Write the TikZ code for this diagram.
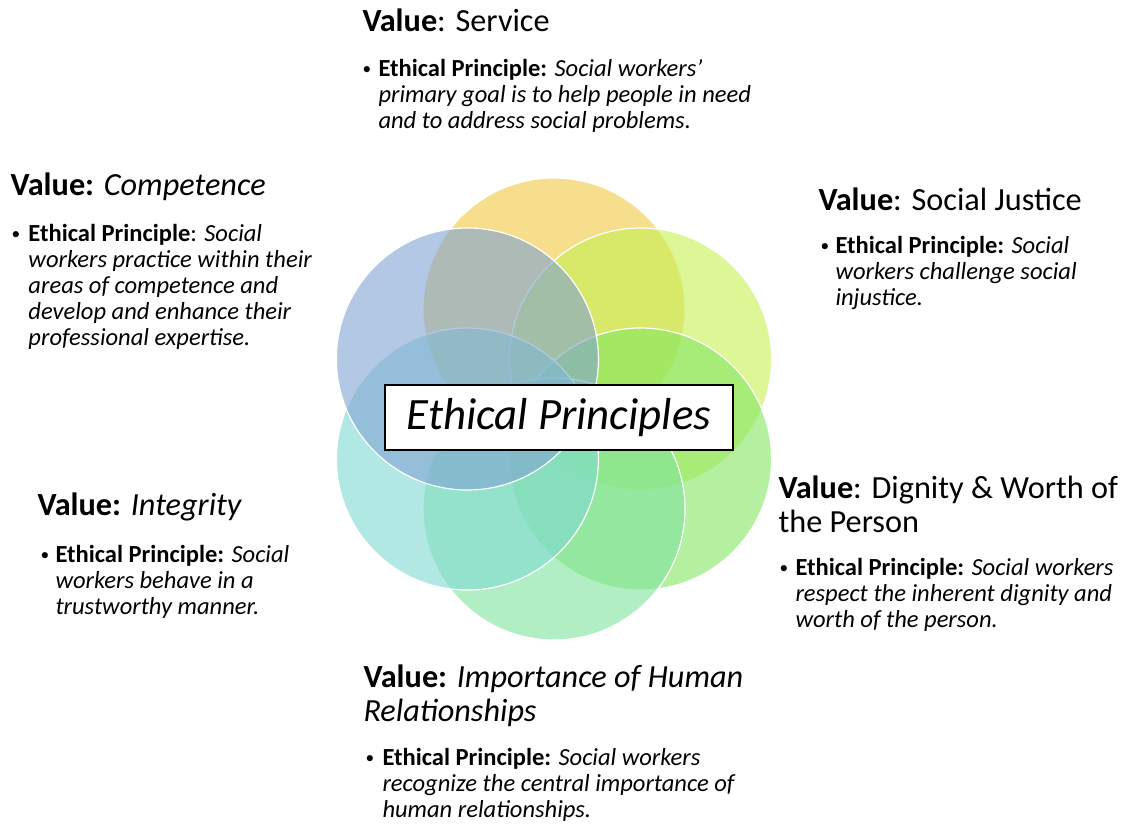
\documentclass[tikz,border=0pt]{standalone}
\usepackage{fontspec}
\setmainfont{Carlito}

\tikzset{every picture/.style={line width=0.75pt}}
\tikzset{
  petal/.style={draw=white, line width=0.9pt, fill opacity=0.6},
  valtext/.style={anchor=base west, inner sep=0pt, align=left, font=\fontsize{24.2}{25.5}\selectfont},
  printext/.style={anchor=base west, inner sep=0pt, align=left, font=\fontsize{18.4}{19.5}\selectfont},
  bulletmark/.style={anchor=base west, inner sep=0pt, font=\fontsize{13}{15}\selectfont}
}
\definecolor{petalA}{RGB}{240,200,63}
\definecolor{petalB}{RGB}{198,240,80}
\definecolor{petalC}{RGB}{130,230,97}
\definecolor{petalD}{RGB}{127,227,157}
\definecolor{petalE}{RGB}{127,217,210}
\definecolor{petalF}{RGB}{127,163,210}

\begin{document}
\begin{tikzpicture}[x=0.75pt,y=0.75pt,yscale=-1,xscale=1]
\useasboundingbox (0,0) rectangle (1123,826);

%Shape: Circle [top]
\draw [petal, fill=petalA] (554,309) circle (131) ;
%Shape: Circle [top right]
\draw [petal, fill=petalB] (640.6,359) circle (131) ;
%Shape: Circle [bottom right]
\draw [petal, fill=petalC] (640.6,459) circle (131) ;
%Shape: Circle [bottom]
\draw [petal, fill=petalD] (554,509) circle (131) ;
%Shape: Circle [bottom left]
\draw [petal, fill=petalE] (467.4,459) circle (131) ;
%Shape: Circle [top left]
\draw [petal, fill=petalF] (467.4,359) circle (131) ;

%Shape: Rectangle
\node (centre) at (559,417.5) [draw=black, fill=white, line width=1.1pt, inner sep=0pt,
  minimum width=261pt, minimum height=48.75pt, font=\fontsize{33.6}{40}\selectfont\itshape] {Ethical Principles};

% Text Node (multi-line nodes sit on their last baseline)
\node (svcVal) at (362,31) [valtext] {\textbf{Value}: Service};
\node (svcDot) at (362,74) [bulletmark] {\textbullet};
\node (svcTxt) at (378,128) [printext] {\textbf{Ethical Principle:} \textit{Social workers'}\\
  \textit{primary goal is to help people in need}\\ \textit{and to address social problems.}};

% Text Node
\node (cmpVal) at (10,195) [valtext] {\textbf{Value:} \textit{Competence}};
\node (cmpDot) at (11,239) [bulletmark] {\textbullet};
\node (cmpTxt) at (28,345) [printext] {\textbf{Ethical Principle}: \textit{Social}\\
  \textit{workers practice within their}\\ \textit{areas of competence and}\\
  \textit{develop and enhance their}\\ \textit{professional expertise.}};

% Text Node
\node (sjVal) at (818,210) [valtext] {\textbf{Value}: Social Justice};
\node (sjDot) at (820,251) [bulletmark] {\textbullet};
\node (sjTxt) at (835,305) [printext] {\textbf{Ethical Principle:} \textit{Social}\\
  \textit{workers challenge social}\\ \textit{injustice.}};

% Text Node
\node (intVal) at (37,515) [valtext] {\textbf{Value:} \textit{Integrity}};
\node (intDot) at (40,560) [bulletmark] {\textbullet};
\node (intTxt) at (55,614) [printext] {\textbf{Ethical Principle:} \textit{Social}\\
  \textit{workers behave in a}\\ \textit{trustworthy manner.}};

% Text Node
\node (dgnVal) at (778,532) [valtext] {\textbf{Value}: Dignity \& Worth of\\ the Person};
\node (dgnDot) at (779,573) [bulletmark] {\textbullet};
\node (dgnTxt) at (795,627) [printext] {\textbf{Ethical Principle:} \textit{Social workers}\\
  \textit{respect the inherent dignity and}\\ \textit{worth of the person.}};

% Text Node
\node (hrVal) at (363,721) [valtext] {\textbf{Value:} \textit{Importance of Human}\\ \textit{Relationships}};
\node (hrDot) at (365,763) [bulletmark] {\textbullet};
\node (hrTxt) at (382,817) [printext] {\textbf{Ethical Principle:} \textit{Social workers}\\
  \textit{recognize the central importance of}\\ \textit{human relationships.}};

\end{tikzpicture}
\end{document}
